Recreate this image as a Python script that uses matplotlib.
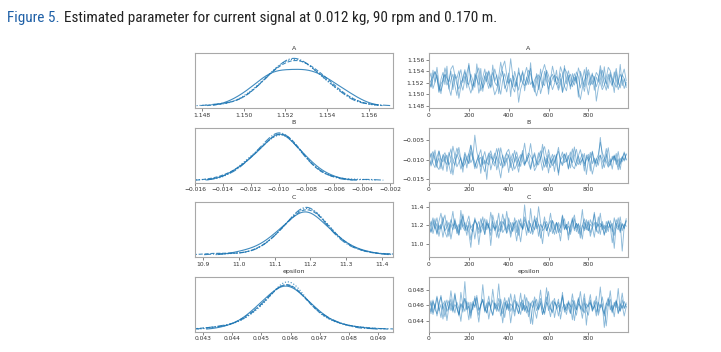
import numpy as np
import matplotlib
matplotlib.use("Agg")
import matplotlib.pyplot as plt
import seaborn as sns
from matplotlib.ticker import MultipleLocator, FuncFormatter

# ---------------- data (posterior draws, 4 chains per parameter, every 10th draw) ----------------
param_names = ["A", "B", "C", "epsilon"]
draw_step = 10

A_chain1 = [1.1529, 1.1512, 1.1542, 1.1521, 1.1533, 1.1503, 1.1526, 1.1538, 1.1517, 1.1549,
            1.1509, 1.1525, 1.1535, 1.1515, 1.1498, 1.1530, 1.1543, 1.1520, 1.1532, 1.1511,
            1.1554, 1.1522, 1.1507, 1.1536, 1.1527, 1.1516, 1.1545, 1.1505, 1.1531, 1.1539,
            1.1519, 1.1513, 1.1551, 1.1523, 1.1534, 1.1501, 1.1528, 1.1540, 1.1510, 1.1518,
            1.1537, 1.1496, 1.1533, 1.1526, 1.1514, 1.1546, 1.1521, 1.1541, 1.1506, 1.1530,
            1.1517, 1.1555, 1.1512, 1.1525, 1.1532, 1.1508, 1.1544, 1.1520, 1.1515, 1.1538,
            1.1500, 1.1529, 1.1535, 1.1522, 1.1542, 1.1511, 1.1527, 1.1504, 1.1550, 1.1518,
            1.1533, 1.1509, 1.1536, 1.1523, 1.1531, 1.1495, 1.1540, 1.1528, 1.1513, 1.1547,
            1.1516, 1.1526, 1.1537, 1.1507, 1.1530, 1.1521, 1.1543, 1.1514, 1.1548, 1.1519,
            1.1510, 1.1534, 1.1525, 1.1503, 1.1539, 1.1517, 1.1552, 1.1515, 1.1527, 1.1512]
A_chain2 = [1.1518, 1.1524, 1.1531, 1.1540, 1.1527, 1.1513, 1.1506, 1.1519, 1.1535, 1.1528,
            1.1522, 1.1544, 1.1550, 1.1533, 1.1517, 1.1509, 1.1521, 1.1526, 1.1539, 1.1530,
            1.1514, 1.1502, 1.1515, 1.1528, 1.1537, 1.1546, 1.1524, 1.1511, 1.1520, 1.1532,
            1.1541, 1.1529, 1.1516, 1.1499, 1.1508, 1.1523, 1.1536, 1.1548, 1.1558, 1.1534,
            1.1519, 1.1525, 1.1512, 1.1504, 1.1527, 1.1538, 1.1531, 1.1520, 1.1515, 1.1526,
            1.1542, 1.1535, 1.1521, 1.1510, 1.1497, 1.1513, 1.1529, 1.1540, 1.1552, 1.1537,
            1.1523, 1.1516, 1.1528, 1.1533, 1.1519, 1.1507, 1.1518, 1.1531, 1.1545, 1.1539,
            1.1526, 1.1514, 1.1522, 1.1536, 1.1527, 1.1505, 1.1491, 1.1511, 1.1524, 1.1534,
            1.1543, 1.1530, 1.1517, 1.1525, 1.1538, 1.1532, 1.1520, 1.1508, 1.1516, 1.1529,
            1.1547, 1.1541, 1.1528, 1.1519, 1.1512, 1.1523, 1.1535, 1.1526, 1.1510, 1.1521]
A_chain3 = [1.1525, 1.1537, 1.1510, 1.1521, 1.1547, 1.1519, 1.1501, 1.1528, 1.1534, 1.1516,
            1.1523, 1.1540, 1.1508, 1.1531, 1.1526, 1.1493, 1.1514, 1.1529, 1.1543, 1.1520,
            1.1517, 1.1535, 1.1524, 1.1512, 1.1553, 1.1527, 1.1506, 1.1518, 1.1532, 1.1522,
            1.1539, 1.1511, 1.1526, 1.1544, 1.1530, 1.1515, 1.1500, 1.1524, 1.1536, 1.1519,
            1.1527, 1.1562, 1.1533, 1.1513, 1.1521, 1.1507, 1.1529, 1.1538, 1.1525, 1.1516,
            1.1531, 1.1545, 1.1518, 1.1504, 1.1522, 1.1534, 1.1527, 1.1512, 1.1540, 1.1523,
            1.1509, 1.1526, 1.1549, 1.1532, 1.1517, 1.1521, 1.1536, 1.1503, 1.1515, 1.1528,
            1.1541, 1.1524, 1.1513, 1.1530, 1.1519, 1.1546, 1.1534, 1.1520, 1.1505, 1.1527,
            1.1538, 1.1516, 1.1522, 1.1531, 1.1488, 1.1511, 1.1525, 1.1542, 1.1529, 1.1518,
            1.1535, 1.1523, 1.1514, 1.1539, 1.1526, 1.1508, 1.1520, 1.1533, 1.1544, 1.1524]
A_chain4 = [1.1520, 1.1513, 1.1527, 1.1539, 1.1532, 1.1505, 1.1518, 1.1524, 1.1546, 1.1531,
            1.1511, 1.1498, 1.1522, 1.1535, 1.1528, 1.1541, 1.1519, 1.1507, 1.1525, 1.1537,
            1.1551, 1.1526, 1.1514, 1.1520, 1.1533, 1.1502, 1.1516, 1.1529, 1.1544, 1.1523,
            1.1510, 1.1527, 1.1538, 1.1521, 1.1515, 1.1531, 1.1556, 1.1536, 1.1518, 1.1504,
            1.1522, 1.1528, 1.1513, 1.1540, 1.1525, 1.1486, 1.1509, 1.1520, 1.1534, 1.1547,
            1.1530, 1.1517, 1.1523, 1.1512, 1.1536, 1.1528, 1.1501, 1.1515, 1.1526, 1.1542,
            1.1533, 1.1521, 1.1508, 1.1519, 1.1531, 1.1524, 1.1548, 1.1537, 1.1514, 1.1506,
            1.1527, 1.1535, 1.1522, 1.1516, 1.1539, 1.1530, 1.1511, 1.1525, 1.1543, 1.1518,
            1.1499, 1.1521, 1.1534, 1.1528, 1.1513, 1.1524, 1.1550, 1.1532, 1.1519, 1.1507,
            1.1526, 1.1538, 1.1517, 1.1529, 1.1545, 1.1522, 1.1511, 1.1534, 1.1527, 1.1516]

B_chain1 = [-0.0095, -0.0112, -0.0084, -0.0101, -0.0120, -0.0077, -0.0098, -0.0106, -0.0089, -0.0131,
            -0.0093, -0.0072, -0.0104, -0.0115, -0.0086, -0.0099, -0.0125, -0.0108, -0.0081, -0.0096,
            -0.0110, -0.0063, -0.0092, -0.0118, -0.0102, -0.0088, -0.0136, -0.0097, -0.0079, -0.0107,
            -0.0114, -0.0091, -0.0100, -0.0083, -0.0127, -0.0105, -0.0069, -0.0094, -0.0117, -0.0103,
            -0.0087, -0.0121, -0.0098, -0.0076, -0.0109, -0.0133, -0.0095, -0.0084, -0.0113, -0.0101,
            -0.0090, -0.0058, -0.0097, -0.0119, -0.0106, -0.0082, -0.0100, -0.0128, -0.0093, -0.0111,
            -0.0074, -0.0099, -0.0116, -0.0104, -0.0086, -0.0141, -0.0096, -0.0080, -0.0108, -0.0102,
            -0.0089, -0.0122, -0.0094, -0.0067, -0.0105, -0.0113, -0.0098, -0.0085, -0.0117, -0.0100,
            -0.0092, -0.0130, -0.0078, -0.0103, -0.0110, -0.0096, -0.0088, -0.0124, -0.0099, -0.0071,
            -0.0107, -0.0115, -0.0091, -0.0102, -0.0084, -0.0119, -0.0097, -0.0106, -0.0080, -0.0101]
B_chain2 = [-0.0103, -0.0088, -0.0079, -0.0096, -0.0118, -0.0126, -0.0107, -0.0091, -0.0082, -0.0099,
            -0.0114, -0.0137, -0.0105, -0.0093, -0.0070, -0.0086, -0.0101, -0.0119, -0.0111, -0.0097,
            -0.0084, -0.0062, -0.0090, -0.0108, -0.0123, -0.0100, -0.0094, -0.0115, -0.0132, -0.0104,
            -0.0089, -0.0077, -0.0098, -0.0110, -0.0092, -0.0120, -0.0148, -0.0109, -0.0095, -0.0081,
            -0.0073, -0.0097, -0.0106, -0.0125, -0.0113, -0.0099, -0.0087, -0.0104, -0.0116, -0.0094,
            -0.0083, -0.0091, -0.0102, -0.0129, -0.0118, -0.0105, -0.0096, -0.0078, -0.0066, -0.0092,
            -0.0108, -0.0121, -0.0099, -0.0088, -0.0112, -0.0135, -0.0101, -0.0093, -0.0085, -0.0106,
            -0.0097, -0.0080, -0.0117, -0.0124, -0.0103, -0.0090, -0.0074, -0.0098, -0.0111, -0.0095,
            -0.0086, -0.0109, -0.0138, -0.0114, -0.0100, -0.0087, -0.0055, -0.0082, -0.0096, -0.0105,
            -0.0120, -0.0112, -0.0098, -0.0091, -0.0103, -0.0127, -0.0107, -0.0094, -0.0083, -0.0100]
B_chain3 = [-0.0092, -0.0117, -0.0101, -0.0075, -0.0109, -0.0096, -0.0124, -0.0087, -0.0104, -0.0113,
            -0.0081, -0.0098, -0.0140, -0.0106, -0.0090, -0.0068, -0.0100, -0.0115, -0.0094, -0.0122,
            -0.0085, -0.0108, -0.0097, -0.0036, -0.0079, -0.0103, -0.0119, -0.0091, -0.0112, -0.0099,
            -0.0083, -0.0127, -0.0105, -0.0093, -0.0071, -0.0102, -0.0116, -0.0088, -0.0110, -0.0096,
            -0.0134, -0.0100, -0.0084, -0.0107, -0.0092, -0.0118, -0.0099, -0.0076, -0.0111, -0.0104,
            -0.0089, -0.0123, -0.0097, -0.0082, -0.0106, -0.0114, -0.0095, -0.0060, -0.0101, -0.0120,
            -0.0087, -0.0109, -0.0098, -0.0131, -0.0093, -0.0078, -0.0103, -0.0112, -0.0086, -0.0100,
            -0.0125, -0.0096, -0.0072, -0.0105, -0.0117, -0.0091, -0.0108, -0.0099, -0.0084, -0.0139,
            -0.0102, -0.0094, -0.0080, -0.0110, -0.0097, -0.0115, -0.0089, -0.0103, -0.0121, -0.0095,
            -0.0069, -0.0107, -0.0100, -0.0088, -0.0113, -0.0098, -0.0126, -0.0092, -0.0104, -0.0085]
B_chain4 = [-0.0099, -0.0084, -0.0110, -0.0121, -0.0093, -0.0078, -0.0105, -0.0128, -0.0097, -0.0088,
            -0.0114, -0.0102, -0.0065, -0.0091, -0.0119, -0.0107, -0.0095, -0.0133, -0.0086, -0.0100,
            -0.0111, -0.0079, -0.0098, -0.0124, -0.0104, -0.0090, -0.0074, -0.0113, -0.0101, -0.0152,
            -0.0096, -0.0085, -0.0108, -0.0117, -0.0092, -0.0070, -0.0099, -0.0122, -0.0106, -0.0083,
            -0.0094, -0.0112, -0.0129, -0.0098, -0.0080, -0.0103, -0.0118, -0.0089, -0.0057, -0.0096,
            -0.0109, -0.0126, -0.0100, -0.0087, -0.0115, -0.0093, -0.0077, -0.0104, -0.0120, -0.0097,
            -0.0135, -0.0101, -0.0086, -0.0110, -0.0092, -0.0068, -0.0106, -0.0116, -0.0099, -0.0082,
            -0.0123, -0.0095, -0.0108, -0.0090, -0.0073, -0.0102, -0.0114, -0.0097, -0.0130, -0.0088,
            -0.0104, -0.0081, -0.0111, -0.0096, -0.0119, -0.0100, -0.0042, -0.0093, -0.0107, -0.0085,
            -0.0117, -0.0098, -0.0125, -0.0091, -0.0105, -0.0079, -0.0112, -0.0094, -0.0101, -0.0087]

C_chain1 = [11.19, 11.12, 11.25, 11.16, 11.22, 11.08, 11.20, 11.29, 11.14, 11.18,
            11.23, 11.05, 11.17, 11.27, 11.11, 11.21, 11.15, 11.32, 11.19, 11.09,
            11.24, 11.16, 11.13, 11.28, 11.20, 10.99, 11.17, 11.22, 11.10, 11.26,
            11.18, 11.14, 11.31, 11.21, 11.07, 11.19, 11.24, 11.12, 11.16, 11.35,
            11.20, 11.11, 11.23, 11.17, 11.03, 11.18, 11.27, 11.15, 11.22, 11.09,
            11.25, 11.19, 11.13, 11.30, 11.16, 11.21, 11.06, 11.18, 11.24, 11.14,
            11.20, 11.33, 11.17, 11.10, 11.23, 11.19, 11.12, 11.26, 11.15, 11.21,
            11.04, 11.18, 11.28, 11.16, 11.22, 11.11, 11.19, 11.37, 11.14, 11.20,
            11.25, 11.08, 11.17, 11.23, 11.13, 11.29, 11.18, 11.21, 11.10, 11.16,
            11.24, 11.19, 11.01, 11.15, 11.26, 11.20, 11.12, 11.22, 11.17, 11.27]
C_chain2 = [11.15, 11.21, 11.28, 11.18, 11.11, 11.24, 11.33, 11.20, 11.13, 11.07,
            11.17, 11.26, 11.19, 11.22, 11.14, 11.09, 11.23, 11.30, 11.16, 11.20,
            11.12, 10.96, 11.18, 11.25, 11.21, 11.15, 11.27, 11.19, 11.10, 11.23,
            11.17, 11.34, 11.22, 11.14, 11.19, 11.06, 11.16, 11.24, 11.20, 11.12,
            11.28, 11.18, 11.13, 11.21, 11.25, 11.15, 11.02, 11.19, 11.29, 11.22,
            11.16, 11.11, 11.20, 11.26, 11.18, 11.40, 11.23, 11.14, 11.17, 11.21,
            11.08, 11.19, 11.25, 11.15, 11.22, 11.12, 11.18, 11.31, 11.20, 11.16,
            11.24, 11.10, 11.19, 11.27, 11.13, 11.21, 11.17, 11.05, 11.23, 11.18,
            11.14, 11.26, 11.20, 11.32, 11.16, 11.11, 11.22, 11.19, 11.09, 11.24,
            11.17, 11.21, 11.13, 11.28, 11.18, 11.15, 11.23, 10.92, 11.19, 11.25]
C_chain3 = [11.22, 11.13, 11.18, 11.27, 11.10, 11.20, 11.16, 11.24, 11.31, 11.17,
            11.08, 11.21, 11.15, 11.25, 11.19, 11.12, 11.36, 11.18, 11.23, 11.14,
            11.20, 11.04, 11.17, 11.26, 11.21, 11.11, 11.19, 11.29, 11.15, 11.22,
            11.18, 11.09, 11.24, 11.16, 11.20, 11.33, 11.13, 11.19, 11.27, 11.15,
            11.21, 11.07, 11.18, 11.23, 11.12, 11.26, 11.20, 11.16, 11.42, 11.19,
            11.14, 11.22, 11.10, 11.17, 11.28, 11.21, 11.15, 11.00, 11.19, 11.24,
            11.18, 11.13, 11.25, 11.20, 11.11, 11.23, 11.17, 11.30, 11.16, 11.21,
            11.09, 11.19, 11.26, 11.14, 11.22, 11.18, 11.06, 11.20, 11.27, 11.15,
            11.23, 11.12, 11.19, 11.34, 11.17, 11.21, 11.10, 11.24, 11.16, 11.20,
            11.13, 11.25, 11.18, 10.95, 11.22, 11.17, 11.29, 11.14, 11.21, 11.19]
C_chain4 = [11.17, 11.24, 11.11, 11.20, 11.28, 11.15, 11.21, 11.07, 11.19, 11.25,
            11.13, 11.22, 11.35, 11.16, 11.20, 11.10, 11.26, 11.18, 11.14, 11.23,
            11.30, 11.17, 11.21, 11.05, 11.19, 11.24, 11.12, 11.18, 11.27, 11.15,
            11.22, 10.98, 11.20, 11.16, 11.25, 11.13, 11.19, 11.32, 11.21, 11.11,
            11.17, 11.23, 11.14, 11.28, 11.18, 11.09, 11.22, 11.16, 11.26, 11.20,
            11.12, 11.38, 11.19, 11.15, 11.24, 11.08, 11.21, 11.17, 11.29, 11.14,
            11.20, 11.25, 11.11, 11.18, 11.23, 11.16, 11.03, 11.21, 11.27, 11.15,
            11.19, 11.13, 11.24, 11.31, 11.17, 11.22, 11.10, 11.20, 11.16, 11.26,
            11.14, 11.21, 11.18, 11.07, 11.23, 11.19, 11.33, 11.15, 11.20, 11.12,
            11.25, 11.17, 11.22, 11.09, 11.19, 11.28, 11.14, 11.21, 11.16, 11.24]

eps_chain1 = [0.0461, 0.0452, 0.0467, 0.0455, 0.0449, 0.0463, 0.0471, 0.0457, 0.0445, 0.0459,
              0.0466, 0.0453, 0.0460, 0.0476, 0.0456, 0.0448, 0.0462, 0.0451, 0.0469, 0.0458,
              0.0441, 0.0464, 0.0454, 0.0472, 0.0459, 0.0447, 0.0461, 0.0468, 0.0455, 0.0450,
              0.0465, 0.0457, 0.0481, 0.0460, 0.0452, 0.0463, 0.0446, 0.0458, 0.0470, 0.0454,
              0.0462, 0.0437, 0.0456, 0.0467, 0.0459, 0.0449, 0.0464, 0.0453, 0.0474, 0.0457,
              0.0451, 0.0461, 0.0466, 0.0455, 0.0443, 0.0460, 0.0469, 0.0458, 0.0448, 0.0463,
              0.0478, 0.0456, 0.0452, 0.0465, 0.0459, 0.0446, 0.0461, 0.0471, 0.0454, 0.0457,
              0.0464, 0.0450, 0.0462, 0.0440, 0.0458, 0.0468, 0.0455, 0.0460, 0.0475, 0.0453,
              0.0447, 0.0463, 0.0457, 0.0466, 0.0451, 0.0459, 0.0484, 0.0456, 0.0449, 0.0462,
              0.0470, 0.0454, 0.0460, 0.0445, 0.0465, 0.0458, 0.0452, 0.0467, 0.0456, 0.0461]
eps_chain2 = [0.0455, 0.0463, 0.0448, 0.0459, 0.0472, 0.0457, 0.0444, 0.0461, 0.0466, 0.0452,
              0.0458, 0.0479, 0.0460, 0.0450, 0.0464, 0.0456, 0.0439, 0.0462, 0.0469, 0.0454,
              0.0459, 0.0447, 0.0465, 0.0457, 0.0473, 0.0453, 0.0460, 0.0468, 0.0451, 0.0463,
              0.0442, 0.0458, 0.0467, 0.0455, 0.0461, 0.0488, 0.0457, 0.0449, 0.0464, 0.0456,
              0.0470, 0.0452, 0.0459, 0.0446, 0.0462, 0.0458, 0.0476, 0.0454, 0.0460, 0.0450,
              0.0465, 0.0457, 0.0435, 0.0461, 0.0468, 0.0455, 0.0463, 0.0448, 0.0459, 0.0471,
              0.0453, 0.0460, 0.0466, 0.0444, 0.0458, 0.0464, 0.0456, 0.0477, 0.0451, 0.0462,
              0.0457, 0.0449, 0.0467, 0.0460, 0.0454, 0.0470, 0.0458, 0.0443, 0.0463, 0.0456,
              0.0461, 0.0474, 0.0452, 0.0459, 0.0465, 0.0447, 0.0457, 0.0462, 0.0431, 0.0455,
              0.0468, 0.0459, 0.0450, 0.0464, 0.0457, 0.0482, 0.0453, 0.0460, 0.0446, 0.0458]
eps_chain3 = [0.0460, 0.0449, 0.0465, 0.0456, 0.0470, 0.0453, 0.0461, 0.0442, 0.0458, 0.0467,
              0.0454, 0.0463, 0.0451, 0.0474, 0.0459, 0.0446, 0.0462, 0.0457, 0.0491, 0.0455,
              0.0464, 0.0450, 0.0459, 0.0469, 0.0456, 0.0438, 0.0461, 0.0466, 0.0453, 0.0458,
              0.0472, 0.0455, 0.0447, 0.0463, 0.0459, 0.0452, 0.0468, 0.0457, 0.0444, 0.0462,
              0.0456, 0.0475, 0.0460, 0.0451, 0.0465, 0.0458, 0.0448, 0.0463, 0.0454, 0.0470,
              0.0459, 0.0436, 0.0457, 0.0466, 0.0453, 0.0461, 0.0480, 0.0456, 0.0450, 0.0464,
              0.0458, 0.0445, 0.0462, 0.0469, 0.0455, 0.0460, 0.0452, 0.0473, 0.0457, 0.0448,
              0.0463, 0.0459, 0.0441, 0.0466, 0.0454, 0.0461, 0.0478, 0.0456, 0.0450, 0.0462,
              0.0458, 0.0467, 0.0453, 0.0460, 0.0446, 0.0464, 0.0457, 0.0471, 0.0455, 0.0433,
              0.0461, 0.0468, 0.0452, 0.0459, 0.0465, 0.0449, 0.0458, 0.0476, 0.0456, 0.0463]
eps_chain4 = [0.0457, 0.0466, 0.0451, 0.0462, 0.0446, 0.0459, 0.0473, 0.0455, 0.0463, 0.0440,
              0.0458, 0.0468, 0.0453, 0.0461, 0.0457, 0.0448, 0.0477, 0.0460, 0.0452, 0.0465,
              0.0456, 0.0443, 0.0462, 0.0459, 0.0470, 0.0454, 0.0458, 0.0487, 0.0461, 0.0450,
              0.0464, 0.0457, 0.0447, 0.0463, 0.0455, 0.0469, 0.0459, 0.0437, 0.0460, 0.0466,
              0.0453, 0.0462, 0.0458, 0.0474, 0.0456, 0.0449, 0.0461, 0.0467, 0.0452, 0.0459,
              0.0445, 0.0463, 0.0457, 0.0471, 0.0460, 0.0454, 0.0465, 0.0448, 0.0458, 0.0483,
              0.0462, 0.0455, 0.0450, 0.0464, 0.0459, 0.0468, 0.0442, 0.0457, 0.0461, 0.0453,
              0.0466, 0.0458, 0.0475, 0.0456, 0.0447, 0.0462, 0.0459, 0.0452, 0.0469, 0.0434,
              0.0460, 0.0464, 0.0455, 0.0458, 0.0472, 0.0451, 0.0461, 0.0457, 0.0446, 0.0463,
              0.0459, 0.0479, 0.0454, 0.0460, 0.0467, 0.0450, 0.0462, 0.0456, 0.0465, 0.0458]

trace_xticks = [0, 200, 400, 600, 800]
title_prefix = "Figure 5."
title_rest = "Estimated parameter for current signal at 0.012 kg, 90 rpm and 0.170 m."

# ---------------- layout / style ----------------
chains = {
    "A": [A_chain1, A_chain2, A_chain3, A_chain4],
    "B": [B_chain1, B_chain2, B_chain3, B_chain4],
    "C": [C_chain1, C_chain2, C_chain3, C_chain4],
    "epsilon": [eps_chain1, eps_chain2, eps_chain3, eps_chain4],
}
kde_xlim = {"A": (1.14767, 1.15715), "B": (-0.01600, -0.00178),
            "C": (10.877, 11.432), "epsilon": (0.042714, 0.049526)}
kde_step = {"A": 0.002, "B": 0.002, "C": 0.1, "epsilon": 0.001}
kde_dec = {"A": 3, "B": 3, "C": 1, "epsilon": 3}
tr_ylim = {"A": (1.1476, 1.1572), "B": (-0.0160, -0.0016),
           "C": (10.856, 11.451), "epsilon": (0.04257, 0.04977)}
tr_step = {"A": 0.002, "B": 0.005, "C": 0.2, "epsilon": 0.002}
tr_dec = {"A": 3, "B": 3, "C": 1, "epsilon": 3}

W, H = 721, 352
row_tops = [53, 127.5, 202, 276.5]
ax_h = 55
left_x0, left_x1 = 195, 393
right_x0, right_x1 = 429, 628
linestyles = ["-", "--", "-.", ":"]
blue = "#1f77b4"
frame = "#a8a8a8"


def fmt(dec):
    return FuncFormatter(lambda v, p: f"{v:.{dec}f}".replace("-", "\u2212"))


def style_axes(ax):
    for s in ax.spines.values():
        s.set_color(frame)
        s.set_linewidth(0.8)
    ax.tick_params(labelsize=4.3, length=2, width=0.5, color="#555555",
                   labelcolor="#333333", pad=1.5)


fig = plt.figure(figsize=(W / 100, H / 100), dpi=100)

for name, top in zip(param_names, row_tops):
    bottom = 1 - (top + ax_h) / H
    axl = fig.add_axes([left_x0 / W, bottom, (left_x1 - left_x0) / W, ax_h / H])
    axr = fig.add_axes([right_x0 / W, bottom, (right_x1 - right_x0) / W, ax_h / H])
    for i, ch in enumerate(chains[name]):
        sns.kdeplot(x=np.asarray(ch), ax=axl, color=blue, linestyle=linestyles[i],
                    linewidth=0.8, alpha=0.85, cut=1.5, bw_adjust=1.1)
        draws = np.arange(len(ch)) * draw_step
        axr.plot(draws, ch, color=blue, linewidth=0.65, alpha=0.5)
    axl.set_xlim(*kde_xlim[name])
    axl.set_yticks([])
    axl.set_xlabel("")
    axl.set_ylabel("")
    axl.xaxis.set_major_locator(MultipleLocator(kde_step[name]))
    axl.xaxis.set_major_formatter(fmt(kde_dec[name]))
    axl.set_title(name, fontsize=4.5, pad=2.5, color="#333333")
    lo, hi = axl.get_ylim()
    axl.set_ylim(-0.04 * hi, hi * 1.06)

    axr.set_xlim(0, 999)
    axr.set_ylim(*tr_ylim[name])
    axr.set_xticks(trace_xticks)
    axr.yaxis.set_major_locator(MultipleLocator(tr_step[name]))
    axr.yaxis.set_major_formatter(fmt(tr_dec[name]))
    axr.set_title(name, fontsize=4.5, pad=2.5, color="#333333")
    style_axes(axl)
    style_axes(axr)

title_fonts = ["Liberation Sans Narrow", "Roboto Condensed", "DejaVu Sans"]
ty = 1 - 18 / H
t1 = fig.text(7 / W, ty, title_prefix, color="#1d5fa6", fontsize=11,
              family=title_fonts, va="center", ha="left")
fig.canvas.draw()
bb = t1.get_window_extent()
fig.text((bb.x1 + 4) / fig.bbox.width, ty, title_rest, color="#222222", fontsize=11,
         family=title_fonts, va="center", ha="left")

fig.savefig("out.png", dpi=100)
